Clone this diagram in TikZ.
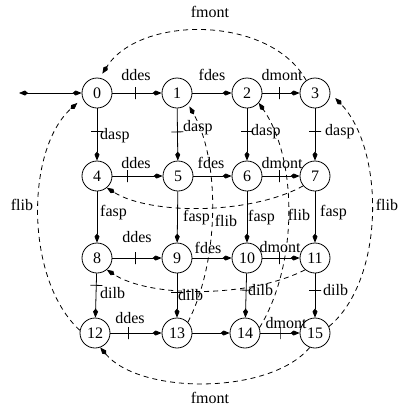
\documentclass[tikz,border=0pt]{standalone}
\usepackage{fontspec}
\setmainfont{Liberation Serif}
\usetikzlibrary{arrows.meta}
\begin{document}
\begin{tikzpicture}[x=1pt,y=-1pt,
  st/.style={circle,draw,line width=0.8pt,minimum size=30pt,inner sep=0pt,font=\fontsize{16}{18}\selectfont},
  lbl/.style={font=\fontsize{16}{18}\selectfont,inner sep=0pt},
  vl/.style={lbl,anchor=west},
  ktip/.tip={Kite[length=9pt,width=5pt,inset=3pt]},
  ed/.style={line width=0.8pt,-ktip},
  dsh/.style={ed,dash pattern=on 5pt off 4pt},
  tk/.style={sloped,draw,line width=0.8pt,minimum width=0pt,minimum height=12pt,inner sep=0pt,outer sep=0pt}]
\useasboundingbox (0,0) rectangle (400,408);
% states
\node[st] (n0) at (97,93) {0};
\node[st] (n1) at (177,93) {1};
\node[st] (n2) at (247,93) {2};
\node[st] (n3) at (315,93) {3};
\node[st] (n4) at (97,176) {4};
\node[st] (n5) at (178,176) {5};
\node[st] (n6) at (247,176) {6};
\node[st] (n7) at (315,176) {7};
\node[st] (n8) at (97,258) {8};
\node[st] (n9) at (177,258) {9};
\node[st] (n10) at (247,258) {10};
\node[st] (n11) at (315,258) {11};
\node[st] (n12) at (95,333) {12};
\node[st] (n13) at (177,333) {13};
\node[st] (n14) at (245,333) {14};
\node[st] (n15) at (315,333) {15};
% input
\coordinate (in) at (19,93);
\draw[line width=0.8pt,ktip-ktip] (in) -- (n0);
% horizontal edges
\draw[ed] (n0) -- node[tk,pos=0.46]{} (n1);
\draw[ed] (n1) -- (n2);
\draw[ed] (n2) -- node[tk,pos=0.47]{} (n3);
\draw[ed] (n4) -- node[tk,pos=0.3]{} (n5);
\draw[ed] (n5) -- (n6);
\draw[ed] (n6) -- node[tk,pos=0.47]{} (n7);
\draw[ed] (n8) -- node[tk,pos=0.46]{} (n9);
\draw[ed] (n9) -- (n10);
\draw[ed] (n10) -- node[tk,pos=0.47]{} (n11);
\draw[ed] (n12) -- node[tk,pos=0.35]{} (n13);
\draw[ed] (n13) -- (n14);
\draw[ed] (n14) -- node[tk,pos=0.5]{} (n15);
% vertical edges
\draw[ed] (n0) -- node[tk,pos=0.45]{} (n4);
\draw[ed] (n1) -- node[tk,pos=0.45]{} (n5);
\draw[ed] (n2) -- node[tk,pos=0.45]{} (n6);
\draw[ed] (n3) -- node[tk,pos=0.45]{} (n7);
\draw[ed] (n4) -- (n8);
\draw[ed] (n5) -- (n9);
\draw[ed] (n6) -- (n10);
\draw[ed] (n7) -- (n11);
\draw[ed] (n8) -- node[tk,pos=0.27]{} (n12);
\draw[ed] (n9) -- node[tk,pos=0.42]{} (n13);
\draw[ed] (n10) -- node[tk,pos=0.38]{} (n14);
\draw[ed] (n11) -- node[tk,pos=0.38]{} (n15);
% dashed transitions
\draw[dsh,shorten >=5pt] (n3.125) .. controls (270,15) and (140,15) .. (n0.80);
\draw[dsh] (n15.250) .. controls (270,395) and (140,395) .. (n12.-70);
\draw[dsh,shorten >=7pt] (n12.170) .. controls (25,280) and (25,150) .. (n0.200);
\draw[dsh,shorten >=7pt] (n15.25) .. controls (385,280) and (385,150) .. (n3.0);
\draw[dsh] (n7.220) .. controls (250,215) and (150,215) .. (n4.-50);
\draw[dsh] (n11.230) .. controls (250,298) and (150,298) .. (n8.-50);
\draw[dsh,shorten >=3pt] (n13.45) .. controls (220,260) and (220,160) .. (n1.-45);
\draw[dsh] (n14.20) .. controls (298,265) and (298,160) .. (n2.-40);
% horizontal labels
\node[lbl] (a01) at (136,75) {ddes};
\node[lbl] (a12) at (212,75) {fdes};
\node[lbl] (a23) at (282,75) {dmont};
\node[lbl] (a45) at (136,163) {ddes};
\node[lbl] (a56) at (211,163) {fdes};
\node[lbl] (a67) at (282,163) {dmont};
\node[lbl] (a89) at (137,237) {ddes};
\node[lbl] (a910) at (208,248) {fdes};
\node[lbl] (a1011) at (280,247) {dmont};
\node[lbl] (a1213) at (130,318) {ddes};
\node[lbl] (a1415) at (286,323) {dmont};
% vertical labels
\node[vl] (v04) at (100,136) {dasp};
\node[vl] (v15) at (183,128) {dasp};
\node[vl] (v26) at (251,132) {dasp};
\node[vl] (v37) at (325,132) {dasp};
\node[vl] (v48) at (100,213) {fasp};
\node[vl] (v59) at (183,218) {fasp};
\node[vl] (v610) at (248,218) {fasp};
\node[vl] (v711) at (320,213) {fasp};
\node[vl] (v812) at (100,293) {dilb};
\node[vl] (v913) at (178,295) {dilb};
\node[vl] (v1014) at (248,290) {dilb};
\node[vl] (v1115) at (323,290) {dilb};
% curve labels
\node[lbl] (fm1) at (210,12) {fmont};
\node[lbl] (fm2) at (210,398) {fmont};
\node[lbl] (fl1) at (22,205) {flib};
\node[lbl] (fl2) at (387,205) {flib};
\node[lbl] (fl3) at (226,221) {flib};
\node[lbl] (fl4) at (299,215) {flib};
\end{tikzpicture}
\end{document}
